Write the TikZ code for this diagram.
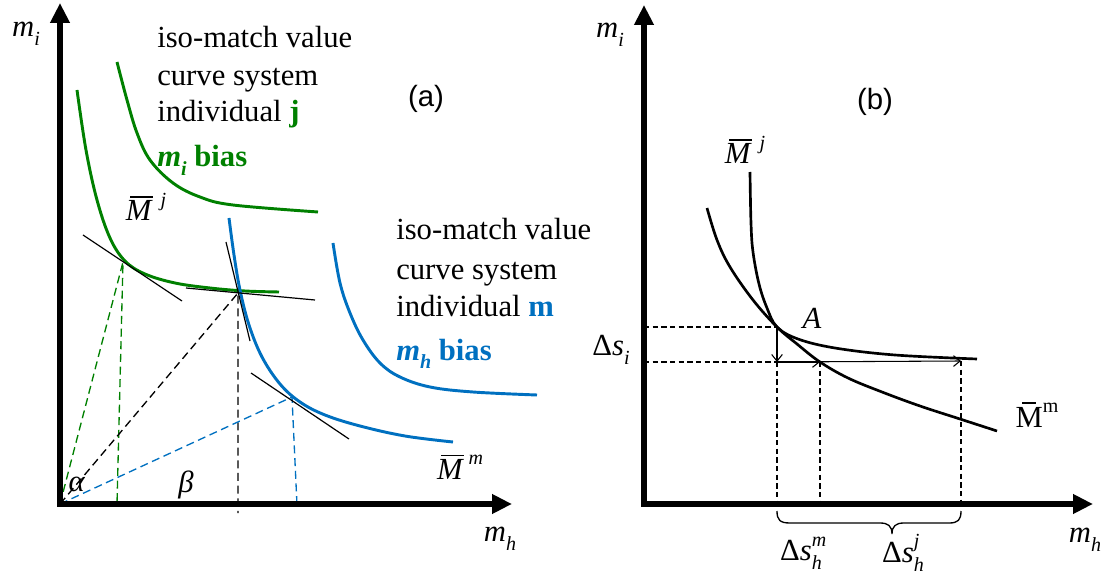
\documentclass[tikz,border=0pt]{standalone}
\usepackage{fontspec}
\setmainfont{Liberation Serif}
\newfontfamily\sansf{Liberation Sans}
\usetikzlibrary{arrows.meta}
\definecolor{gr}{RGB}{0,128,0}
\definecolor{bl}{RGB}{0,112,192}
\newcommand{\lo}[1]{\raisebox{-0.28em}{\fontsize{15}{15}\selectfont #1}}
\newcommand{\hi}[1]{\raisebox{0.48em}{\fontsize{15}{15}\selectfont #1}}
\newcommand{\hilo}[2]{\rlap{\hi{#1}}\lo{#2}}
\newcommand{\Mbar}{\makebox[0pt][l]{\hspace{0.14em}\rule[0.76em]{0.74em}{0.045em}}\textit{M}}
\newcommand{\Mup}{\makebox[0pt][l]{\hspace{0.22em}\rule[0.78em]{0.45em}{0.045em}}M}
\begin{document}
\begin{tikzpicture}[x=0.75pt,y=-0.75pt,
  every node/.style={font=\fontsize{23}{27}\selectfont, inner sep=0pt},
  axis/.style={line width=4.5pt, -{Triangle[length=15pt,width=14pt]}},
  grcurve/.style={gr, line width=2.2pt},
  blcurve/.style={bl, line width=2.2pt},
  bkcurve/.style={black, line width=2pt},
  tang/.style={line width=0.9pt},
  dsh/.style={line width=1pt, dash pattern=on 6pt off 3.5pt},
  rdash/.style={line width=0.9pt, dash pattern=on 4pt off 2.5pt},
  thinarrow/.style={line width=0.8pt, -{Straight Barb[length=5pt,width=8pt]}},
  panellabel/.style={font=\sansf\fontsize{22}{22}\selectfont}
]
\useasboundingbox (0,0) rectangle (1107,577);

% ---------------- panel (a) ----------------
\coordinate (O) at (60,504);
\coordinate (P1) at (123,262);
\coordinate (P2) at (238,293);
\coordinate (P3) at (292,397);
\coordinate (F1) at (117,504);
\coordinate (F2) at (238,513);
\coordinate (F3) at (297,505);
\coordinate (Ya) at (60,3);
\coordinate (Xa) at (512,504);

% dashed construction lines
\draw[dsh, gr] (O) -- (P1) -- (F1);
\draw[dsh, black] (O) -- (P2) -- (F2);
\draw[dsh, bl] (O) -- (P3) -- (F3);

% curves
\draw[grcurve] plot[smooth, tension=0.6] coordinates {(117,62) (127,100) (137,133) (150,160) (173,183) (200,197) (233,205) (318,212)};
\draw[grcurve] plot[smooth, tension=0.6] coordinates {(77,90) (86,150) (97,200) (110,238) (125,261) (145,274) (175,283) (210,288) (245,291) (279,292)};
\draw[blcurve] plot[smooth, tension=0.6] coordinates {(229,218) (234,255) (240,290) (249,325) (262,357) (280,384) (300,402) (325,415) (360,426) (405,436) (453,442)};
\draw[blcurve] plot[smooth, tension=0.6] coordinates {(333,243) (340,283) (350,313) (363,340) (380,363) (400,377) (430,387) (473,392) (537,395)};

% tangent lines
\draw[tang] (83,235) -- (182,301);
\draw[tang] (226,242) -- (250,341);
\draw[tang] (186,288) -- (315,300);
\draw[tang] (251,373) -- (349,439);

% axes
\draw[axis] (60,506.5) -- (Ya);
\draw[axis] (57.8,504) -- (Xa);

% labels
\node (mia) at (26,34) {\textit{m}\lo{\textit{i}}};
\node (mha) at (500,539) {\textit{m}\lo{\textit{h}}};
\node (la) at (426,99) [panellabel] {(a)};
\node[anchor=base west] (t1) at (157,48) {iso-match value};
\node[anchor=base west] (t2) at (157,86) {curve system};
\node[anchor=base west] (t3) at (157,122) {individual \textcolor{gr}{\textbf{j}}};
\node[anchor=base west, text=gr] (t4) at (157,167) {\textbf{\textit{m}\lo{\textit{i}} bias}};
\node[anchor=base west] (u1) at (396,240) {iso-match value};
\node[anchor=base west] (u2) at (396,280) {curve system};
\node[anchor=base west] (u3) at (396,317) {individual \textcolor{bl}{\textbf{m}}};
\node[anchor=base west, text=bl] (u4) at (396,360) {\textbf{\textit{m}\lo{\textit{h}} bias}};
\node (Mja) at (146,207) {\Mbar\hspace{0.25em}\hi{\textit{j}}};
\node (Mma) at (460,467) {\Mbar\hspace{0.15em}\hi{\textit{m}}};
\node (alpha) at (77,484) {\textit{α}};
\node (beta) at (186,485) {\textit{β}};

% ---------------- panel (b) ----------------
\coordinate (A) at (777,327);
\coordinate (B) at (777,362);
\coordinate (C) at (820,362);
\coordinate (D) at (961,361);
\coordinate (YA) at (644,327);
\coordinate (YB) at (644,362);
\coordinate (B0) at (777,504);
\coordinate (C0) at (820,504);
\coordinate (D0) at (961,504);
\coordinate (Yb) at (644,5);
\coordinate (Xb) at (1093,504);

\draw[rdash] (YA) -- (A);
\draw[rdash] (YB) -- (B);
\draw[rdash] (B) -- (B0);
\draw[rdash] (C) -- (C0);
\draw[rdash] (D) -- (D0);

\draw[bkcurve] plot[smooth, tension=0.6] coordinates {(750,172) (751,223) (753,252) (759,284) (767,308) (777,327) (798,339) (835,348) (895,355) (977,359)};
\draw[bkcurve] plot[smooth, tension=0.6] coordinates {(707,208) (717,240) (730,267) (753,300) (777,327) (797,344) (820,362) (848,378) (882,392) (920,406) (960,419) (997,431)};

\draw[thinarrow] (A) -- (B);
\draw[thinarrow] (B) -- (C);
\draw[thinarrow] (B) -- (D);

\draw[axis] (644,506.5) -- (Yb);
\draw[axis] (641.8,504) -- (Xb);

% brace
\draw[line width=1pt] (777,511) .. controls (777,520) and (780,523) .. (790,523) -- (880,523)
  .. controls (888,523) and (892,526) .. (892,534)
  .. controls (892,526) and (896,523) .. (904,523) -- (949,523)
  .. controls (958,523) and (961,520) .. (961,511);

\node (mib) at (610,35) {\textit{m}\lo{\textit{i}}};
\node (mhb) at (1085,540) {\textit{m}\lo{\textit{h}}};
\node (lb) at (875,102) [panellabel] {(b)};
\node (Mjb) at (745,150) {\Mbar\hspace{0.25em}\hi{\textit{j}}};
\node (Alab) at (812,318) {\textit{A}};
\node (dsi) at (611,350) {Δ\textit{s}\lo{\textit{i}}};
\node (dshm) at (801,553) {Δ\textit{s}\hilo{\textit{m}}{\textit{h}}};
\node (dshj) at (903,553) {Δ\textit{s}\hilo{\textit{j}}{\textit{h}}};
\node (Mmb) at (1037,415) {\Mup\hi{m}};
\end{tikzpicture}
\end{document}
